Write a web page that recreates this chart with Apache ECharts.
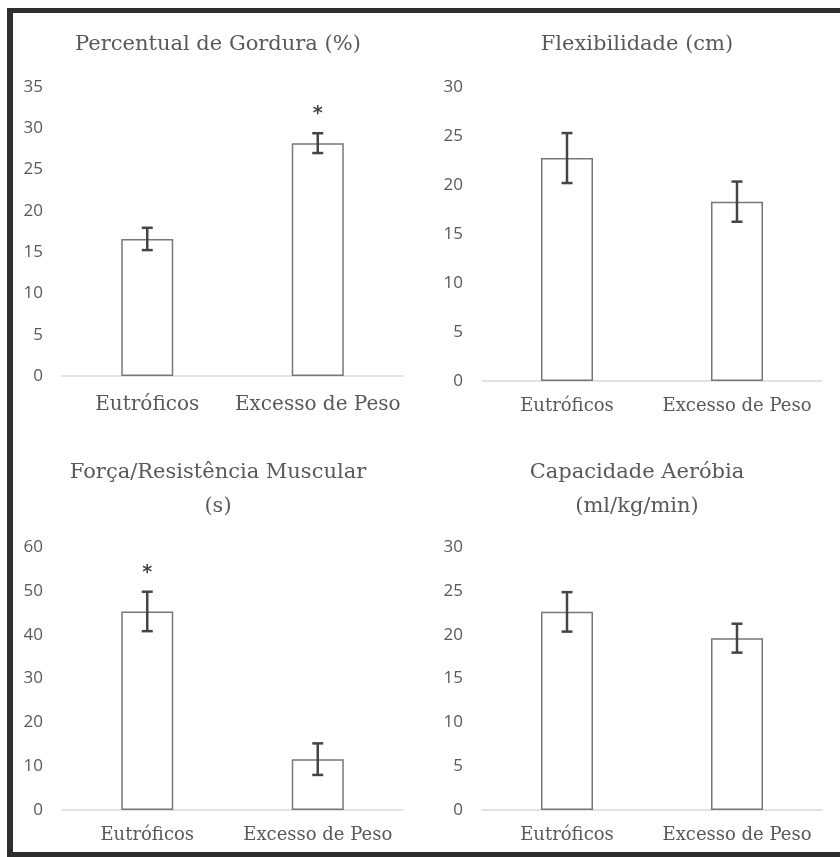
<!DOCTYPE html>
<html>
<head>
<meta charset="utf-8">
<script src="https://cdn.jsdelivr.net/npm/echarts@6/dist/echarts.min.js"></script>
<style>
html,body{margin:0;padding:0;background:#fff;}
#c{width:840px;height:857px;}
</style>
</head>
<body>
<div id="c"></div>
<script>
// ---- data ----
const categories = ['Eutróficos', 'Excesso de Peso'];

const gorduraTitle = 'Percentual de Gordura (%)';
const gorduraMean = [16.6, 28.2];
const gorduraErr = [1.35, 1.2];
const gorduraSig = [false, true];
const gorduraTicks = [0, 5, 10, 15, 20, 25, 30, 35];

const flexTitle = 'Flexibilidade (cm)';
const flexMean = [22.75, 18.3];
const flexErr = [2.55, 2.05];
const flexSig = [false, false];
const flexTicks = [0, 5, 10, 15, 20, 25, 30];

const forcaTitle = 'Força/Resistência Muscular\n(s)';
const forcaMean = [45.3, 11.6];
const forcaErr = [4.5, 3.6];
const forcaSig = [true, false];
const forcaTicks = [0, 10, 20, 30, 40, 50, 60];

const aerobiaTitle = 'Capacidade Aeróbia\n(ml/kg/min)';
const aerobiaMean = [22.6, 19.6];
const aerobiaErr = [2.25, 1.65];
const aerobiaSig = [false, false];
const aerobiaTicks = [0, 5, 10, 15, 20, 25, 30];

// ---- styles ----
const SERIF = '"DejaVu Serif", serif';
const SANS = '"Open Sans", sans-serif';
const TXT = '#595959';

const panels = [
  {title: gorduraTitle, mean: gorduraMean, err: gorduraErr, sig: gorduraSig, ticks: gorduraTicks,
   grid: {left: 62, top: 87, width: 341, height: 289}, tx: 218, ty: 45, xFont: 20, xMargin: 19},
  {title: flexTitle, mean: flexMean, err: flexErr, sig: flexSig, ticks: flexTicks,
   grid: {left: 482, top: 87, width: 340, height: 294}, tx: 637, ty: 45, xFont: 18, xMargin: 16},
  {title: forcaTitle, mean: forcaMean, err: forcaErr, sig: forcaSig, ticks: forcaTicks,
   grid: {left: 62, top: 547, width: 341, height: 263}, tx: 218, ty: 490, xFont: 18, xMargin: 16},
  {title: aerobiaTitle, mean: aerobiaMean, err: aerobiaErr, sig: aerobiaSig, ticks: aerobiaTicks,
   grid: {left: 482, top: 547, width: 340, height: 263}, tx: 637, ty: 490, xFont: 18, xMargin: 16}
];

const grids = [], xAxes = [], yAxes = [], series = [], graphics = [];

panels.forEach((p, i) => {
  grids.push(Object.assign({containLabel: false}, p.grid));
  xAxes.push({
    type: 'category', gridIndex: i, data: categories,
    axisLine: {show: true, lineStyle: {color: '#d9d9d9', width: 1.5}},
    axisTick: {show: false},
    axisLabel: {interval: 0, color: TXT, fontFamily: SERIF, fontSize: p.xFont, margin: p.xMargin}
  });
  const step = p.ticks[1] - p.ticks[0];
  yAxes.push({
    type: 'value', gridIndex: i,
    min: p.ticks[0], max: p.ticks[p.ticks.length - 1], interval: step,
    axisLine: {show: false}, axisTick: {show: false},
    splitLine: {show: false},
    axisLabel: {color: TXT, fontFamily: SANS, fontSize: 17, margin: 19}
  });
  series.push({
    type: 'bar', xAxisIndex: i, yAxisIndex: i, data: p.mean, barWidth: 52, z: 2,
    itemStyle: {color: '#ffffff', borderColor: '#777777', borderWidth: 1.5},
    silent: true, animation: false
  });
  const errData = p.mean.map((m, k) => [k, m, p.err[k], p.sig[k] ? 1 : 0]);
  series.push({
    type: 'custom', xAxisIndex: i, yAxisIndex: i, data: errData, animation: false, silent: true,
    z: 10,
    renderItem: function (params, api) {
      const idx = api.value(0), m = api.value(1), e = api.value(2), s = api.value(3);
      const hi = api.coord([idx, m + e]);
      const lo = api.coord([idx, m - e]);
      const cap = 5.5;
      const st = {stroke: '#454545', lineWidth: 2.5};
      const children = [
        {type: 'line', shape: {x1: hi[0], y1: hi[1], x2: lo[0], y2: lo[1]}, style: st},
        {type: 'line', shape: {x1: hi[0] - cap, y1: hi[1], x2: hi[0] + cap, y2: hi[1]}, style: st},
        {type: 'line', shape: {x1: lo[0] - cap, y1: lo[1], x2: lo[0] + cap, y2: lo[1]}, style: st}
      ];
      if (s) {
        children.push({type: 'text', style: {
          text: '*', x: hi[0], y: hi[1] - 19, align: 'center', verticalAlign: 'middle',
          fill: '#444444', font: 'bold 19px "DejaVu Sans", sans-serif'
        }});
      }
      return {type: 'group', children: children};
    }
  });
  graphics.push({
    type: 'text', x: p.tx, y: p.ty, z: 20,
    style: {
      text: p.title, fill: TXT, font: '21px ' + SERIF,
      align: 'center', verticalAlign: 'middle',
      lineHeight: 34
    }
  });
});

// frame
graphics.push({type: 'rect', shape: {x: 7, y: 8, width: 833, height: 5}, style: {fill: '#2e2e2e'}});
graphics.push({type: 'rect', shape: {x: 7, y: 8, width: 6, height: 849}, style: {fill: '#2e2e2e'}});
graphics.push({type: 'rect', shape: {x: 7, y: 852, width: 833, height: 5}, style: {fill: '#2e2e2e'}});

const chart = echarts.init(document.getElementById('c'), null, {renderer: 'canvas'});
chart.setOption({
  backgroundColor: '#ffffff',
  animation: false,
  grid: grids,
  xAxis: xAxes,
  yAxis: yAxes,
  series: series,
  graphic: graphics
});
</script>
</body>
</html>
